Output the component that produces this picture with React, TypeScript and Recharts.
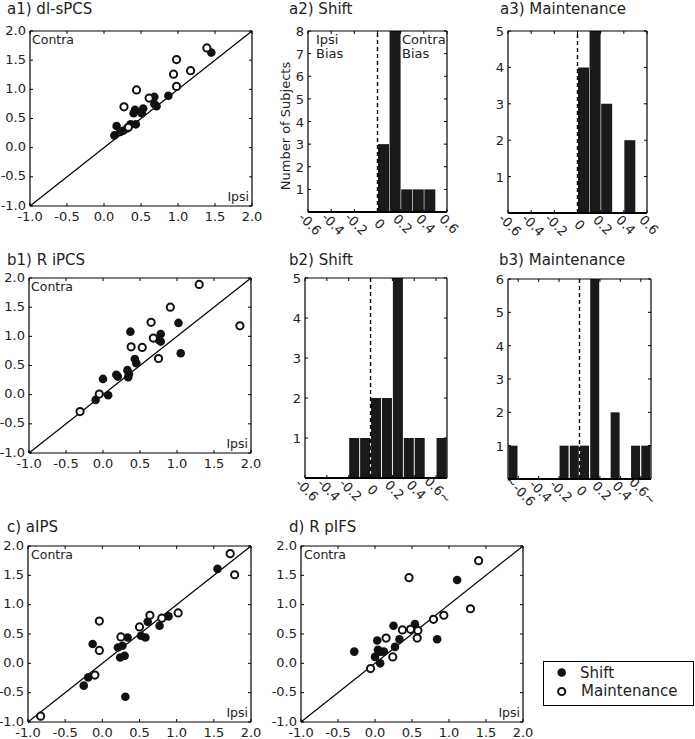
import React from 'react'
import {
  ScatterChart,
  Scatter,
  BarChart,
  Bar,
  XAxis,
  YAxis,
  ReferenceLine,
} from 'recharts'

const FONT = "'DejaVu Sans', Verdana, sans-serif"

// scatter panels: [ipsi, contra] pairs
const A1_SHIFT: [number, number][] = [
  [1.45, 1.63], [0.87, 0.89], [0.68, 0.87], [0.68, 0.75], [0.71, 0.71], [0.53, 0.67],
  [0.42, 0.65], [0.40, 0.59], [0.51, 0.59], [0.17, 0.37], [0.14, 0.21], [0.22, 0.27],
  [0.31, 0.33], [0.36, 0.40], [0.43, 0.40], [0.26, 0.29],
]
const A1_MAINT: [number, number][] = [
  [1.39, 1.71], [0.98, 1.51], [1.17, 1.32], [0.94, 1.26], [0.98, 1.05], [0.44, 0.99],
  [0.61, 0.85], [0.27, 0.70], [0.33, 0.35],
]
const B1_SHIFT: [number, number][] = [
  [1.02, 1.23], [1.05, 0.71], [0.37, 1.08], [0.78, 1.04], [0.75, 0.94], [0.78, 0.91],
  [0.43, 0.61], [0.45, 0.54], [0.33, 0.42], [0.35, 0.35], [0.34, 0.30], [0.18, 0.34],
  [0.20, 0.31], [0.00, 0.27], [0.07, -0.01], [-0.10, -0.09],
]
const B1_MAINT: [number, number][] = [
  [1.30, 1.89], [0.91, 1.50], [0.65, 1.24], [0.68, 0.97], [0.38, 0.82], [0.53, 0.81],
  [0.75, 0.62], [-0.05, 0.01], [-0.31, -0.29], [1.85, 1.18],
]
const C_SHIFT: [number, number][] = [
  [1.55, 1.61], [0.89, 0.80], [0.77, 0.64], [0.61, 0.71], [0.58, 0.44], [0.52, 0.47],
  [0.34, 0.44], [0.21, 0.27], [0.27, 0.30], [0.24, 0.10], [0.30, 0.13], [-0.13, 0.33],
  [-0.19, -0.24], [-0.25, -0.38], [0.31, -0.57],
]
const C_MAINT: [number, number][] = [
  [1.72, 1.87], [1.78, 1.51], [-0.04, 0.72], [-0.04, 0.22], [-0.10, -0.20], [-0.83, -0.90],
  [0.25, 0.45], [0.50, 0.62], [0.64, 0.82], [0.80, 0.77], [1.02, 0.86],
]
const D_SHIFT: [number, number][] = [
  [1.11, 1.42], [0.84, 0.41], [0.54, 0.67], [0.55, 0.60], [0.25, 0.64], [0.33, 0.41],
  [0.27, 0.28], [0.03, 0.39], [0.04, 0.23], [0.07, 0.20], [0.12, 0.20], [0.00, 0.11],
  [0.07, 0.00], [-0.28, 0.20],
]
const D_MAINT: [number, number][] = [
  [1.40, 1.75], [0.46, 1.46], [1.29, 0.93], [0.93, 0.82], [0.79, 0.75], [0.37, 0.57],
  [0.15, 0.43], [0.57, 0.43], [0.58, 0.56], [0.48, 0.58], [0.24, 0.11], [-0.06, -0.09],
]
const SCATTER_TICKS = [-1, -0.5, 0, 0.5, 1, 1.5, 2]

// histograms: bin centres and counts
const BINS_A = [-0.55, -0.45, -0.35, -0.25, -0.15, -0.05, 0.05, 0.15, 0.25, 0.35, 0.45, 0.55]
const A2_COUNTS = [0, 0, 0, 0, 0, 0, 3, 8, 1, 1, 1, 0]
const A3_COUNTS = [0, 0, 0, 0, 0, 0, 4, 5, 3, 0, 2, 0]
const BINS_B2 = [-0.55, -0.45, -0.35, -0.25, -0.15, -0.05, 0.05, 0.15, 0.25, 0.35, 0.45, 0.55, 0.65]
const B2_COUNTS = [0, 0, 0, 0, 1, 1, 2, 2, 5, 1, 1, 0, 1]
const BINS_B3 = [-0.65, -0.55, -0.45, -0.35, -0.25, -0.15, -0.05, 0.05, 0.15, 0.25, 0.35, 0.45, 0.55, 0.65]
const B3_COUNTS = [1, 0, 0, 0, 0, 1, 1, 1, 6, 0, 2, 0, 1, 1]
const HIST_TICKS = [-0.6, -0.4, -0.2, 0, 0.2, 0.4, 0.6]
const HIST_LABELS = ['-0.6', '-0.4', '-0.2', '0', '0.2', '0.4', '0.6']
const HIST_LABELS_B2 = ['-0.6', '-0.4', '-0.2', '0', '0.2', '0.4', '0.6~']
const HIST_LABELS_B3 = ['~-0.6', '-0.4', '-0.2', '0', '0.2', '0.4', '0.6~']

// outer margins around each plot box (axes take 1px each)
const ML = 34
const MR = 14
const MT = 10
const MB = 34

const filledDot = (p: any) => <circle cx={p.cx} cy={p.cy} r={4.3} fill="#111" />
const openDot = (p: any) => (
  <circle cx={p.cx} cy={p.cy} r={3.6} fill="#fff" stroke="#111" strokeWidth={2} />
)

const axisCommon = {
  tickSize: 0,
  tickMargin: 0,
  interval: 0 as const,
  allowDataOverflow: true,
  stroke: '#000',
  strokeWidth: 1.2,
}

function ScatterPanel({ left, top, w, h, shift, maint }: any) {
  const shiftRows = shift.map(([x, y]: number[]) => ({ x, y }))
  const maintRows = maint.map(([x, y]: number[]) => ({ x, y }))
  return (
    <div style={{ position: 'absolute', left: left - ML, top: top - MT }}>
      <ScatterChart
        width={w + ML + MR}
        height={h + MT + MB}
        margin={{ left: ML - 1, right: MR - 1, top: MT - 1, bottom: MB - 1 }}
      >
        <XAxis
          {...axisCommon}
          xAxisId="b"
          type="number"
          dataKey="x"
          domain={[-1, 2]}
          ticks={SCATTER_TICKS}
          height={1}
          tick={(p: any) => (
            <g>
              <line x1={p.x} x2={p.x} y1={p.y} y2={p.y - 3} stroke="#000" />
              <text x={p.x} y={p.y + 15} textAnchor="middle" fontSize={13} fontFamily={FONT} fill="#222">
                {Number(p.payload.value).toFixed(1)}
              </text>
            </g>
          )}
        />
        <XAxis
          {...axisCommon}
          xAxisId="t"
          orientation="top"
          type="number"
          dataKey="x"
          domain={[-1, 2]}
          ticks={SCATTER_TICKS}
          height={1}
          tick={(p: any) => <line x1={p.x} x2={p.x} y1={p.y} y2={p.y + 3} stroke="#000" />}
        />
        <YAxis
          {...axisCommon}
          yAxisId="l"
          type="number"
          dataKey="y"
          domain={[-1, 2]}
          ticks={SCATTER_TICKS}
          width={1}
          tick={(p: any) => (
            <g>
              <line x1={p.x} x2={p.x + 3} y1={p.y} y2={p.y} stroke="#000" />
              <text x={p.x - 4} y={p.y + 3.5} textAnchor="end" fontSize={13} fontFamily={FONT} fill="#222">
                {Number(p.payload.value).toFixed(1)}
              </text>
            </g>
          )}
        />
        <YAxis
          {...axisCommon}
          yAxisId="r"
          orientation="right"
          type="number"
          dataKey="y"
          domain={[-1, 2]}
          ticks={SCATTER_TICKS}
          width={1}
          tick={(p: any) => <line x1={p.x} x2={p.x - 3} y1={p.y} y2={p.y} stroke="#000" />}
        />
        <ReferenceLine
          xAxisId="b"
          yAxisId="l"
          segment={[{ x: -1, y: -1 }, { x: 2, y: 2 }]}
          stroke="#000"
          strokeWidth={1.2}
        />
        <Scatter xAxisId="b" yAxisId="l" data={shiftRows} shape={filledDot} isAnimationActive={false} />
        <Scatter xAxisId="b" yAxisId="l" data={maintRows} shape={openDot} isAnimationActive={false} />
      </ScatterChart>
    </div>
  )
}

function HistPanel({ left, top, w, h, bins, counts, domain, labels, yMax }: any) {
  const rows = bins.map((b: number, i: number) => ({ bin: b, n: counts[i] }))
  const yTicks = Array.from({ length: yMax }, (_, i) => i + 1)
  return (
    <div style={{ position: 'absolute', left: left - ML, top: top - MT }}>
      <BarChart
        width={w + ML + MR}
        height={h + MT + MB}
        margin={{ left: ML - 1, right: MR - 1, top: MT - 1, bottom: MB - 1 }}
        data={rows}
        barCategoryGap={0.5}
      >
        <XAxis xAxisId="cat" dataKey="bin" type="category" orientation="top" height={0} hide />
        <XAxis
          {...axisCommon}
          xAxisId="val"
          type="number"
          dataKey="bin"
          domain={domain}
          ticks={HIST_TICKS}
          height={1}
          strokeWidth={1.8}
          tick={(p: any) => {
            const cx = p.x + 2
            const cy = p.y + 12
            return (
              <g>
                <line x1={p.x} x2={p.x} y1={p.y} y2={p.y - 3} stroke="#000" />
                <text
                  x={cx}
                  y={cy}
                  textAnchor="middle"
                  dominantBaseline="central"
                  transform={`rotate(45, ${cx}, ${cy})`}
                  fontSize={13}
                  fontFamily={FONT}
                  fill="#222"
                >
                  {labels[p.index]}
                </text>
              </g>
            )
          }}
        />
        <XAxis
          {...axisCommon}
          xAxisId="top"
          orientation="top"
          type="number"
          dataKey="bin"
          domain={domain}
          ticks={HIST_TICKS}
          height={1}
          tick={(p: any) => <line x1={p.x} x2={p.x} y1={p.y} y2={p.y + 3} stroke="#000" />}
        />
        <YAxis
          {...axisCommon}
          yAxisId="l"
          type="number"
          domain={[0, yMax]}
          ticks={yTicks}
          width={1}
          tick={(p: any) => (
            <g>
              <line x1={p.x} x2={p.x + 3} y1={p.y} y2={p.y} stroke="#000" />
              <text x={p.x - 4} y={p.y + 5} textAnchor="end" fontSize={13} fontFamily={FONT} fill="#222">
                {p.payload.value}
              </text>
            </g>
          )}
        />
        <YAxis
          {...axisCommon}
          yAxisId="r"
          orientation="right"
          type="number"
          domain={[0, yMax]}
          ticks={yTicks}
          width={1}
          tick={(p: any) => <line x1={p.x} x2={p.x - 3} y1={p.y} y2={p.y} stroke="#000" />}
        />
        <Bar xAxisId="cat" yAxisId="l" dataKey="n" fill="#1a1a1a" isAnimationActive={false} />
        <ReferenceLine xAxisId="val" yAxisId="l" x={0} stroke="#000" strokeWidth={1.4} strokeDasharray="4 3" />
      </BarChart>
    </div>
  )
}

const txt = { fontFamily: FONT, fill: '#222' }

export default function App() {
  return (
    <div style={{ position: 'absolute', left: 0, top: 0, width: 695, height: 739, background: '#fff' }}>
      <ScatterPanel left={30} top={31} w={222} h={175} shift={A1_SHIFT} maint={A1_MAINT} />
      <HistPanel left={308} top={31} w={139} h={181} bins={BINS_A} counts={A2_COUNTS} domain={[-0.6, 0.6]} labels={HIST_LABELS} yMax={8} />
      <HistPanel left={508} top={31} w={139} h={182} bins={BINS_A} counts={A3_COUNTS} domain={[-0.6, 0.6]} labels={HIST_LABELS} yMax={5} />

      <ScatterPanel left={29} top={278} w={222} h={175} shift={B1_SHIFT} maint={B1_MAINT} />
      <HistPanel left={305} top={278} w={142} h={200} bins={BINS_B2} counts={B2_COUNTS} domain={[-0.6, 0.7]} labels={HIST_LABELS_B2} yMax={5} />
      <HistPanel left={508} top={279} w={143} h={200} bins={BINS_B3} counts={B3_COUNTS} domain={[-0.7, 0.7]} labels={HIST_LABELS_B3} yMax={6} />

      <ScatterPanel left={28} top={546} w={223} h={176} shift={C_SHIFT} maint={C_MAINT} />
      <ScatterPanel left={301} top={546} w={222} h={176} shift={D_SHIFT} maint={D_MAINT} />

      <svg width={695} height={739} style={{ position: 'absolute', left: 0, top: 0, pointerEvents: 'none' }}>
        <g fontSize={15} {...txt}>
          <text x={7} y={14}>a1) dl-sPCS</text>
          <text x={289} y={14}>a2) Shift</text>
          <text x={500} y={14}>a3) Maintenance</text>
          <text x={7} y={265}>b1) R iPCS</text>
          <text x={289} y={265}>b2) Shift</text>
          <text x={499} y={265}>b3) Maintenance</text>
          <text x={7} y={532}>c) aIPS</text>
          <text x={289} y={532}>d) R pIFS</text>
        </g>
        <g fontSize={12.5} {...txt}>
          <text x={32} y={44}>Contra</text>
          <text x={249} y={201} textAnchor="end">Ipsi</text>
          <text x={31} y={291}>Contra</text>
          <text x={248} y={448} textAnchor="end">Ipsi</text>
          <text x={31} y={559}>Contra</text>
          <text x={248} y={717} textAnchor="end">Ipsi</text>
          <text x={304} y={559}>Contra</text>
          <text x={520} y={717} textAnchor="end">Ipsi</text>
        </g>
        <g fontSize={13} {...txt}>
          <text x={316} y={44}>Ipsi</text>
          <text x={316} y={58}>Bias</text>
          <text x={402} y={44}>Contra</text>
          <text x={402} y={58}>Bias</text>
          <text x={290} y={126} textAnchor="middle" transform="rotate(-90, 290, 126)">Number of Subjects</text>
        </g>
        <rect x={543.5} y={661.5} width={150} height={44} fill="#fff" stroke="#000" strokeWidth={1} />
        <circle cx={561.7} cy={672.5} r={4.3} fill="#111" />
        <circle cx={561.7} cy={691.5} r={3.6} fill="#fff" stroke="#111" strokeWidth={2} />
        <g fontSize={15} {...txt}>
          <text x={580} y={678}>Shift</text>
          <text x={581} y={696}>Maintenance</text>
        </g>
      </svg>
    </div>
  )
}
